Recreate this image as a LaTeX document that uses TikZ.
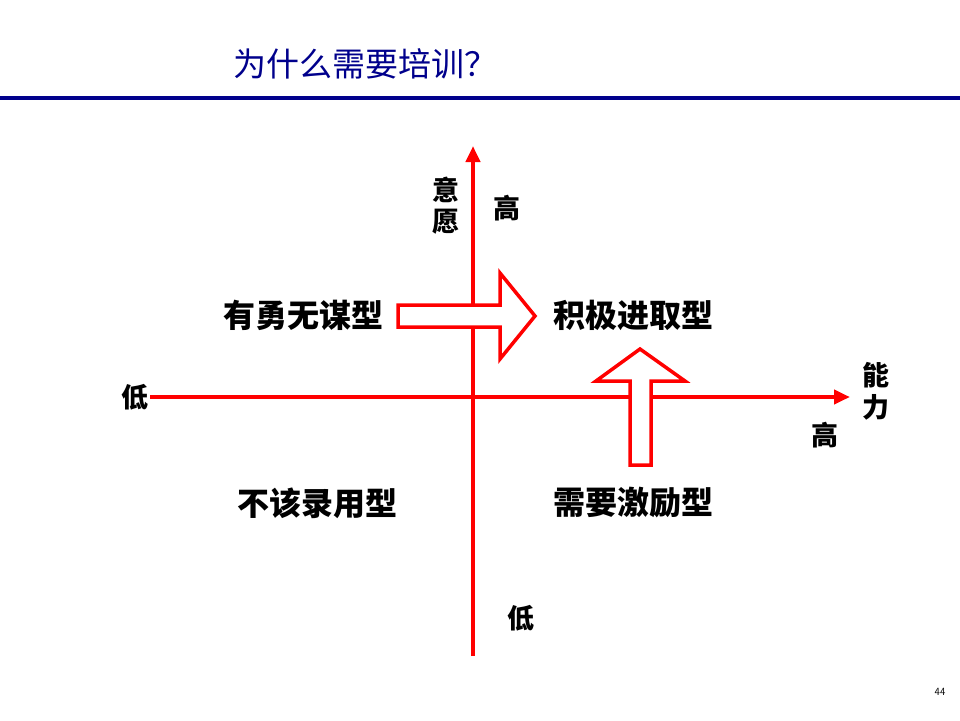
\documentclass[tikz,border=0pt]{standalone}
\usepackage{fontspec}
\newfontfamily\cjk{Noto Sans CJK SC}
\usetikzlibrary{arrows.meta}
\definecolor{tblue}{RGB}{0,0,140}
\tikzset{axis/.style={red,line width=4pt,-{Triangle[length=16pt,width=14pt]}},
lab/.style={font=\cjk\bfseries\fontsize{27pt}{29pt}\selectfont,inner sep=0pt},
qlab/.style={font=\cjk\bfseries\fontsize{32pt}{34pt}\selectfont,inner sep=0pt},
hollow/.style={draw=red,line width=3.5pt,fill=white,line join=miter}}
\begin{document}
\begin{tikzpicture}[x=1pt,y=-1pt]
\useasboundingbox[fill=white] (0,0) rectangle (960,720);
\node[font=\cjk\fontsize{33pt}{35pt}\selectfont,text=tblue,anchor=west,inner sep=0pt] (title) at (233,64) {为什么需要培训\char"FF1F};
\draw[tblue,line width=3.5pt] (0,98) -- (960,98);
\coordinate (vb) at (473,656); \coordinate (vt) at (473,146);
\coordinate (hl) at (150,397); \coordinate (hr) at (850,397);
\draw[axis] (vb) -- (vt);
\draw[axis] (hl) -- (hr);
\node[lab] (y1) at (446,190) {意};
\node[lab] (y2) at (446,222) {愿};
\node[lab] (yh) at (507,208) {高};
\node[lab] (yl) at (521,618) {低};
\node[lab] (xl) at (135,397) {低};
\node[lab] (x1) at (876,375) {能};
\node[lab] (x2) at (876,407) {力};
\node[lab] (xh) at (825,435) {高};
\node[qlab] (q1) at (303,315) {有勇无谋型};
\node[qlab] (q2) at (633,315) {积极进取型};
\node[qlab] (q3) at (317,503) {不该录用型};
\node[qlab] (q4) at (633,503) {需要激励型};
\draw[hollow] (398,305) -- (500,305) -- (500,273) -- (535,316) -- (500,359) -- (500,327) -- (398,327) -- cycle;
\draw[hollow] (630,465) -- (630,381) -- (596,381) -- (640,349) -- (685,381) -- (651,381) -- (651,465) -- cycle;
\node[font=\sffamily\fontsize{11pt}{12pt}\selectfont,inner sep=0pt] (pg) at (940,692) {44};
\end{tikzpicture}
\end{document}
